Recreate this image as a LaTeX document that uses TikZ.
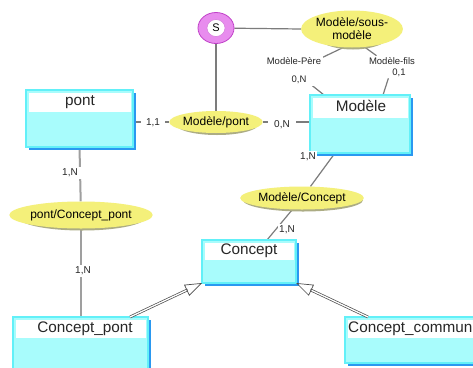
\documentclass[tikz,border=0pt]{standalone}
\usepackage{fontspec}
\setmainfont{Liberation Sans}
\usetikzlibrary{arrows.meta,calc,shapes.geometric}
\definecolor{cyanbody}{HTML}{A8FCFC}
\definecolor{cyanedge}{HTML}{62F0F8}
\definecolor{shadowblue}{HTML}{2A98F0}
\definecolor{ellfill}{HTML}{F4F07A}
\definecolor{ellshadow}{HTML}{ACAC84}
\definecolor{ringpink}{HTML}{E88CEE}
\definecolor{ringedge}{HTML}{C040C8}
\definecolor{linegray}{HTML}{7C7C7C}
\pgfdeclarelayer{bg}
\pgfsetlayers{bg,main}
\newcommand\ERbox[6]{%
  \fill[shadowblue] (#2+3,#3+3) rectangle (#4+3,#5+3);
  \node[entity, minimum width={(#4-#2)*1pt}, minimum height={(#5-#3)*1pt}] (#1) at ({(#2+#4)/2},{(#3+#5)/2}) {};
  \fill[white] (#2+2.5,#3+2.5) rectangle (#4-2.5,#6);
}
\begin{document}
\begin{tikzpicture}[x=1pt,y=-1pt,
  entity/.style={draw=cyanedge, fill=cyanbody, line width=1.5pt, inner sep=0pt, outer sep=0pt},
  title/.style={font=\fontsize{15.3}{16}\selectfont, text=black!85, inner sep=0pt},
  rel/.style={ellipse, fill=ellfill, inner sep=0pt, font=\fontsize{12}{13}\selectfont},
  relshadow/.style={ellipse, fill=ellshadow, inner sep=0pt},
  card/.style={fill=white, inner sep=1.5pt, font=\fontsize{10}{10}\selectfont, text=black!85},
  role/.style={fill=white, inner sep=1.5pt, align=center, font=\fontsize{9.5}{11}\selectfont, text=black!85},
  conn/.style={draw=linegray, line width=1.2pt},
  thickconn/.style={draw=gray!75, line width=2pt},
  genline/.style={draw=gray!60!black, line width=.7pt, double=white, double distance=1.3pt},
  genhead/.style={draw=gray!60!black, line width=.7pt, -{Triangle[open, length=17pt, width=12pt]}}
]
\clip (0,0) rectangle (473,367);

% entity boxes
\ERbox{pont}{26}{90}{133}{147}{112}
\node[title] (ponttitle) at (80,102) {pont};
\ERbox{modele}{310}{95}{410}{153}{118}
\node[title] (modeletitle) at (361,106) {Modèle};
\ERbox{concept}{202}{240}{296}{283}{260}
\node[title] (concepttitle) at (249,251) {Concept};
\ERbox{cpont}{13}{317}{148}{372}{338}
\node[title] (cponttitle) at (85,329) {Concept\_pont};
\ERbox{ccommun}{345}{317}{490}{363}{338}
\node[title, anchor=west] (ccommuntitle) at (348,329) {Concept\_commun};

% relationship ellipses (with soft shadow)
\node[relshadow, minimum width=80pt, minimum height=37pt] (sousmodsh) at (353,31) {};
\node[rel, minimum width=80pt, minimum height=37pt, align=center] (sousmod) at (352,29) {Modèle/sous-\\modèle};
\node[relshadow, minimum width=83pt, minimum height=22pt] (modpontsh) at (217,124) {};
\node[rel, minimum width=83pt, minimum height=22pt] (modpont) at (216,122) {Modèle/pont};
\node[relshadow, minimum width=128pt, minimum height=27pt] (pontcpsh) at (82,217) {};
\node[rel, minimum width=128pt, minimum height=27pt] (pontcp) at (81,215) {pont/Concept\_pont};
\node[relshadow, minimum width=120pt, minimum height=23pt] (modconcsh) at (303,200) {};
\node[rel, minimum width=120pt, minimum height=23pt] (modconc) at (302,198) {Modèle/Concept};

% S ring
\node[ellipse, draw=ringedge, fill=ringpink, line width=.8pt, minimum width=36pt, minimum height=31pt] (sring) at (216,28) {};
\node[ellipse, draw=ringedge!70, fill=white, line width=.5pt, minimum width=18pt, minimum height=17pt, inner sep=0pt, font=\fontsize{11}{11}\selectfont] (sinner) at (216,28) {S};

% attach points
\coordinate (mtl) at (324,95);
\coordinate (mtr) at (383,95);
\coordinate (mb) at (335,153);
\coordinate (ct) at (267,240);
\coordinate (gpa) at (130,317);
\coordinate (gca) at (368,317);

% role and cardinality labels
\node[role] (rolep) at (294,71) {Modèle-Père\\[7pt]\hspace*{10pt}0,N};
\node[role] (rolef) at (392,67) {Modèle-fils\\\hspace*{14pt}0,1};
\node[card, inner xsep=5pt] (c11) at (153,123) {1,1};
\node[card, inner xsep=6pt] (c0n) at (282,125) {0,N};
\node[card] (c1nm) at (308,157) {1,N};
\node[card] (c1nc) at (287,230) {1,N};
\node[card, minimum width=24pt] (c1np) at (70,173) {1,N};
\node[card, minimum width=14pt] (c1ncp) at (83,271) {1,N};

\begin{pgfonlayer}{bg}
\fill[white] (0,0) rectangle (473,367);
\draw[conn] (sring) -- (sousmod.west);
\draw[conn] (sring) -- (modpont);
\draw[conn] (pont.east |- modpont.west) -- (modpont.west);
\draw[conn] (modpont.east) -- (modele.west |- modpont.east);
\draw[conn] (sousmod.-115) -- (rolep) -- (mtl);
\draw[conn] (sousmod.-55) -- (rolef) -- (mtr);
\draw[conn] (mb) -- (modconc);
\draw[conn] (modconc) -- (ct);
\draw[thickconn] (pont.south) -- (pontcp);
\draw[thickconn] (pontcp) -- (pontcp |- cpont.north);
\end{pgfonlayer}

% generalisations
\draw[genline, shorten >=16pt] (gpa) -- (concept.south west);
\draw[genhead] ($(concept.south west)!16pt!(gpa)$) -- (concept.south west);
\draw[genline, shorten >=16pt] (gca) -- (concept.south east);
\draw[genhead] ($(concept.south east)!16pt!(gca)$) -- (concept.south east);
\end{tikzpicture}
\end{document}
